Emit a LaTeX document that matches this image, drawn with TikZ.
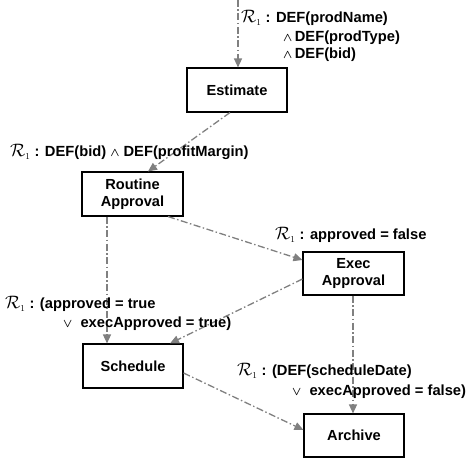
\RequirePackage{fix-cm}
\documentclass[tikz,border=0pt]{standalone}
\usepackage{amsmath}
\usepackage{fontspec}
\setmainfont{Liberation Sans}
\usetikzlibrary{arrows.meta}
\definecolor{flowgray}{RGB}{128,128,128}
\tikzset{
  stepbox/.style={draw=black, line width=1.1pt, fill=white, align=center, inner sep=2pt,
    font=\fontsize{14.6}{16.5}\selectfont\bfseries},
  lbl/.style={anchor=west, inner sep=0pt, font=\fontsize{14.7}{17}\selectfont\bfseries},
  flow/.style={draw=flowgray, line width=1.3pt,
    dash pattern=on 7pt off 2.5pt on 1.5pt off 2.5pt,
    -{Triangle[length=9pt,width=8pt,fill=flowgray]}}
}
\newcommand{\Rone}{{\fontsize{18}{18}\selectfont$\mathcal{R}_{\scriptscriptstyle 1}$}}
\newcommand{\wdg}{{\fontsize{12}{12}\selectfont$\boldsymbol{\wedge}$}}
\newcommand{\vvee}{{\fontsize{12}{12}\selectfont$\boldsymbol{\vee}$}}
\begin{document}
\begin{tikzpicture}[x=1pt,y=-1pt]
\useasboundingbox (0,0) rectangle (470,462);

\node[stepbox, minimum width=100pt, minimum height=44pt] (est) at (237,90) {Estimate};
\node[stepbox, minimum width=101pt, minimum height=44pt] (ra) at (132.5,194) {Routine\\Approval};
\node[stepbox, minimum width=101pt, minimum height=43pt] (ea) at (353.5,273.5) {Exec\\Approval};
\node[stepbox, minimum width=100pt, minimum height=44pt] (sch) at (133,366) {Schedule};
\node[stepbox, minimum width=100pt, minimum height=43pt] (arc) at (354,435.5) {Archive};

\coordinate (top) at (238,0);

\draw[flow] (top) -- (top |- est.north);
\draw[flow] ([xshift=-7pt]est.south) -- ([xshift=15.5pt]ra.north);
\draw[flow] ([xshift=35.5pt]ra.south) -- ([yshift=13.5pt]ea.west);
\draw[flow] ([xshift=-25.5pt]ra.south) -- ([xshift=-25.5pt]ra.south |- sch.north);
\draw[flow] ([yshift=-5.5pt]ea.west) -- ([xshift=37pt]sch.north);
\draw[flow] ([xshift=-0.5pt]ea.south) -- ([xshift=-0.5pt]ea.south |- arc.north);
\draw[flow] ([yshift=-7pt]sch.east) -- ([yshift=5.5pt]arc.west);

\node[lbl] (l1a) at (241,18) {\Rone\ : DEF(prodName)};
\node[lbl] (l1b) at (283,38) {\wdg\,DEF(prodType)};
\node[lbl] (l1c) at (283,55) {\wdg\,DEF(bid)};
\node[lbl] (l2) at (10,152) {\Rone\ : DEF(bid) \wdg\ DEF(profitMargin)};
\node[lbl] (l3) at (275,235) {\Rone\ : approved = false};
\node[lbl] (l4a) at (5,304) {\Rone\ : (approved = true};
\node[lbl] (l4b) at (63,324) {\vvee\ \ execApproved = true)};
\node[lbl] (l5a) at (237,371) {\Rone\ : (DEF(scheduleDate)};
\node[lbl] (l5b) at (292,392) {\vvee\ \ execApproved = false)};
\end{tikzpicture}
\end{document}
